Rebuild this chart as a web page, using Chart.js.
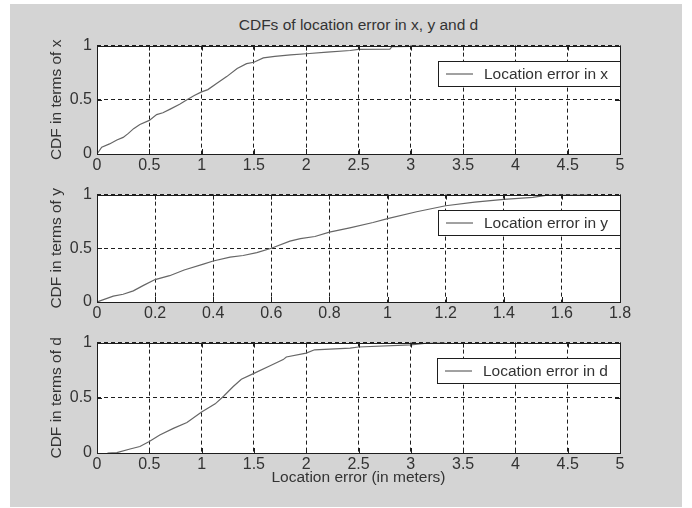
<!DOCTYPE html>
<html>
<head>
<meta charset="utf-8">
<script src="https://cdn.jsdelivr.net/npm/chart.js@4.4.0/dist/chart.umd.min.js"></script>
<style>
  html, body { margin: 0; padding: 0; background: #fff; }
  body { width: 692px; height: 508px; position: relative; overflow: hidden; font-family: "Liberation Sans", Arial, sans-serif; }
  #frame { position: absolute; left: 10px; top: 4px; width: 672px; height: 503px; background: #d4d4d4; }
  #title { position: absolute; left: 97px; width: 523px; top: 15px; line-height: 20px; text-align: center; font-size: 15.5px; color: #333; }
  .box { position: absolute; left: 43px; }
  .box canvas { display: block; }
</style>
</head>
<body>
<div id="frame"></div>
<div id="title">CDFs of location error in x, y and d</div>
<div class="box" style="top:31px"><canvas id="chart-x" width="607" height="148"></canvas></div>
<div class="box" style="top:180px"><canvas id="chart-y" width="607" height="147"></canvas></div>
<div class="box" style="top:328px"><canvas id="chart-d" width="607" height="163"></canvas></div>

<script>
  // error values (m) and CDF
  const errX = [0, 0.045, 0.12, 0.19, 0.25, 0.3, 0.35, 0.41, 0.5, 0.57, 0.63, 0.7, 0.79, 0.86, 0.93, 1.0, 1.06, 1.15,
    1.24, 1.34, 1.43, 1.5, 1.59, 1.7, 1.85, 2.0, 2.2, 2.42, 2.5, 2.8, 2.82, 3.0, 3.12];
  const cdfX = [0, 0.063, 0.093, 0.129, 0.153, 0.19, 0.234, 0.273, 0.31, 0.363, 0.38, 0.414, 0.459, 0.5, 0.54, 0.573, 0.594, 0.654,
    0.714, 0.789, 0.834, 0.846, 0.886, 0.9, 0.915, 0.925, 0.94, 0.955, 0.965, 0.968, 0.99, 0.993, 1.0];

  const errY = [0, 0.056, 0.09, 0.125, 0.16, 0.2, 0.25, 0.3, 0.366, 0.4, 0.458, 0.503, 0.55, 0.6, 0.664, 0.7, 0.75, 0.8,
    0.87, 0.95, 1.0, 1.1, 1.2, 1.3, 1.4, 1.5, 1.55, 1.69];
  const cdfY = [0, 0.054, 0.072, 0.104, 0.155, 0.209, 0.245, 0.298, 0.352, 0.382, 0.418, 0.433, 0.46, 0.5, 0.567, 0.59, 0.61, 0.65,
    0.69, 0.74, 0.776, 0.84, 0.896, 0.93, 0.955, 0.975, 0.995, 1.0];

  const errD = [0.1, 0.19, 0.316, 0.41, 0.5, 0.6, 0.73, 0.86, 1.0, 1.13, 1.21, 1.3, 1.38, 1.5, 1.66, 1.78, 1.81, 2.0,
    2.08, 2.42, 2.5, 3.0, 3.15, 3.33];
  const cdfD = [0, 0.003, 0.036, 0.059, 0.104, 0.163, 0.223, 0.276, 0.371, 0.445, 0.514, 0.6, 0.668, 0.721, 0.792, 0.846, 0.87, 0.905,
    0.935, 0.95, 0.96, 0.98, 0.995, 1.0];

  const ticksMeters = [0, 0.5, 1, 1.5, 2, 2.5, 3, 3.5, 4, 4.5, 5];
  const ticksY = [0, 0.2, 0.4, 0.6, 0.8, 1, 1.2, 1.4, 1.6, 1.8];
  const ticksCdf = [0, 0.5, 1];

  const FONT = '"Liberation Sans", Arial, sans-serif';
  const TEXT = '#333';
  const INK = '#1e1e1e';

  // matlab prints 1 not 1.0
  const fmt = (v) => String(Math.round(v * 100) / 100);

  // white axes box, inner tick marks and a boxed legend, MATLAB style
  const matlabAxes = {
    id: 'matlabAxes',
    beforeDraw(chart) {
      const a = chart.chartArea;
      const ctx = chart.ctx;
      ctx.save();
      ctx.fillStyle = '#fff';
      ctx.fillRect(a.left, a.top, a.right - a.left, a.bottom - a.top);
      ctx.restore();
    },
    afterDatasetsDraw(chart) {
      const a = chart.chartArea;
      const ctx = chart.ctx;
      const xs = chart.scales.x;
      const ys = chart.scales.y;
      const len = 5;

      ctx.save();
      ctx.strokeStyle = INK;
      ctx.lineWidth = 1;
      ctx.setLineDash([]);
      ctx.beginPath();
      for (const t of xs.ticks) {
        const px = Math.round(xs.getPixelForValue(t.value)) + 0.5;
        ctx.moveTo(px, a.bottom); ctx.lineTo(px, a.bottom - len);
        ctx.moveTo(px, a.top); ctx.lineTo(px, a.top + len);
      }
      for (const t of ys.ticks) {
        const py = Math.round(ys.getPixelForValue(t.value)) + 0.5;
        ctx.moveTo(a.left, py); ctx.lineTo(a.left + len, py);
        ctx.moveTo(a.right, py); ctx.lineTo(a.right - len, py);
      }
      ctx.stroke();
      ctx.strokeRect(Math.round(a.left) + 0.5, Math.round(a.top) + 0.5,
        Math.round(a.right - a.left), Math.round(a.bottom - a.top));

      // legend
      const label = chart.data.datasets[0].label;
      ctx.font = '15.5px ' + FONT;
      const tw = ctx.measureText(label).width;
      const w = Math.round(48 + tw + 10);
      const h = 25;
      const bx = Math.round(a.right) - w;
      const by = Math.round(a.top) + 15;
      ctx.fillStyle = '#fff';
      ctx.fillRect(bx, by, w, h);
      ctx.strokeRect(bx + 0.5, by + 0.5, w, h);
      ctx.strokeStyle = '#444';
      ctx.beginPath();
      ctx.moveTo(bx + 8, by + h / 2 + 0.5);
      ctx.lineTo(bx + 35, by + h / 2 + 0.5);
      ctx.stroke();
      ctx.fillStyle = TEXT;
      ctx.textBaseline = 'middle';
      ctx.textAlign = 'left';
      ctx.fillText(label, bx + 46, by + h / 2 + 1);
      ctx.restore();
    }
  };

  function makeChart(id, errs, cdf, label, xTicks, yTitle, xTitle) {
    const points = errs.map((e, i) => ({ x: e, y: cdf[i] }));
    const gridStyle = { color: INK, lineWidth: 1, drawTicks: false };
    return new Chart(document.getElementById(id), {
      type: 'line',
      data: {
        datasets: [{
          label,
          data: points,
          borderColor: '#666',
          borderWidth: 1.2,
          pointRadius: 0,
          tension: 0,
          fill: false,
        }],
      },
      options: {
        responsive: false,
        animation: false,
        events: [],
        layout: { padding: { top: 12, right: 30, left: 0, bottom: 0 } },
        plugins: { legend: { display: false }, tooltip: { enabled: false } },
        scales: {
          x: {
            type: 'linear',
            min: xTicks[0],
            max: xTicks[xTicks.length - 1],
            grid: gridStyle,
            border: { display: false, dash: [4, 3] },
            afterBuildTicks: (s) => { s.ticks = xTicks.map((v) => ({ value: v })); },
            afterFit: (s) => { s.height = xTitle ? 38 : 25; },
            ticks: {
              color: TEXT, font: { family: FONT, size: 16 }, padding: 2, maxRotation: 0, autoSkip: false,
              callback: fmt,
            },
            title: {
              display: !!xTitle,
              text: xTitle || '',
              color: TEXT,
              font: { family: FONT, size: 15.5 },
              padding: { top: 0, bottom: 4 },
            },
          },
          y: {
            type: 'linear',
            min: 0,
            max: 1,
            grid: gridStyle,
            border: { display: false, dash: [4, 3] },
            afterBuildTicks: (s) => { s.ticks = ticksCdf.map((v) => ({ value: v })); },
            afterFit: (s) => { s.width = 54; },
            ticks: { color: TEXT, font: { family: FONT, size: 16 }, padding: 5, callback: fmt },
            title: {
              display: true,
              text: yTitle,
              color: TEXT,
              font: { family: FONT, size: 15.5 },
              padding: { top: 4, bottom: 0 },
            },
          },
        },
      },
      plugins: [matlabAxes],
    });
  }

  makeChart('chart-x', errX, cdfX, 'Location error in x', ticksMeters, 'CDF in terms of x');
  makeChart('chart-y', errY, cdfY, 'Location error in y', ticksY, 'CDF in terms of y');
  makeChart('chart-d', errD, cdfD, 'Location error in d', ticksMeters, 'CDF in terms of d', 'Location error (in meters)');
</script>
</body>
</html>
